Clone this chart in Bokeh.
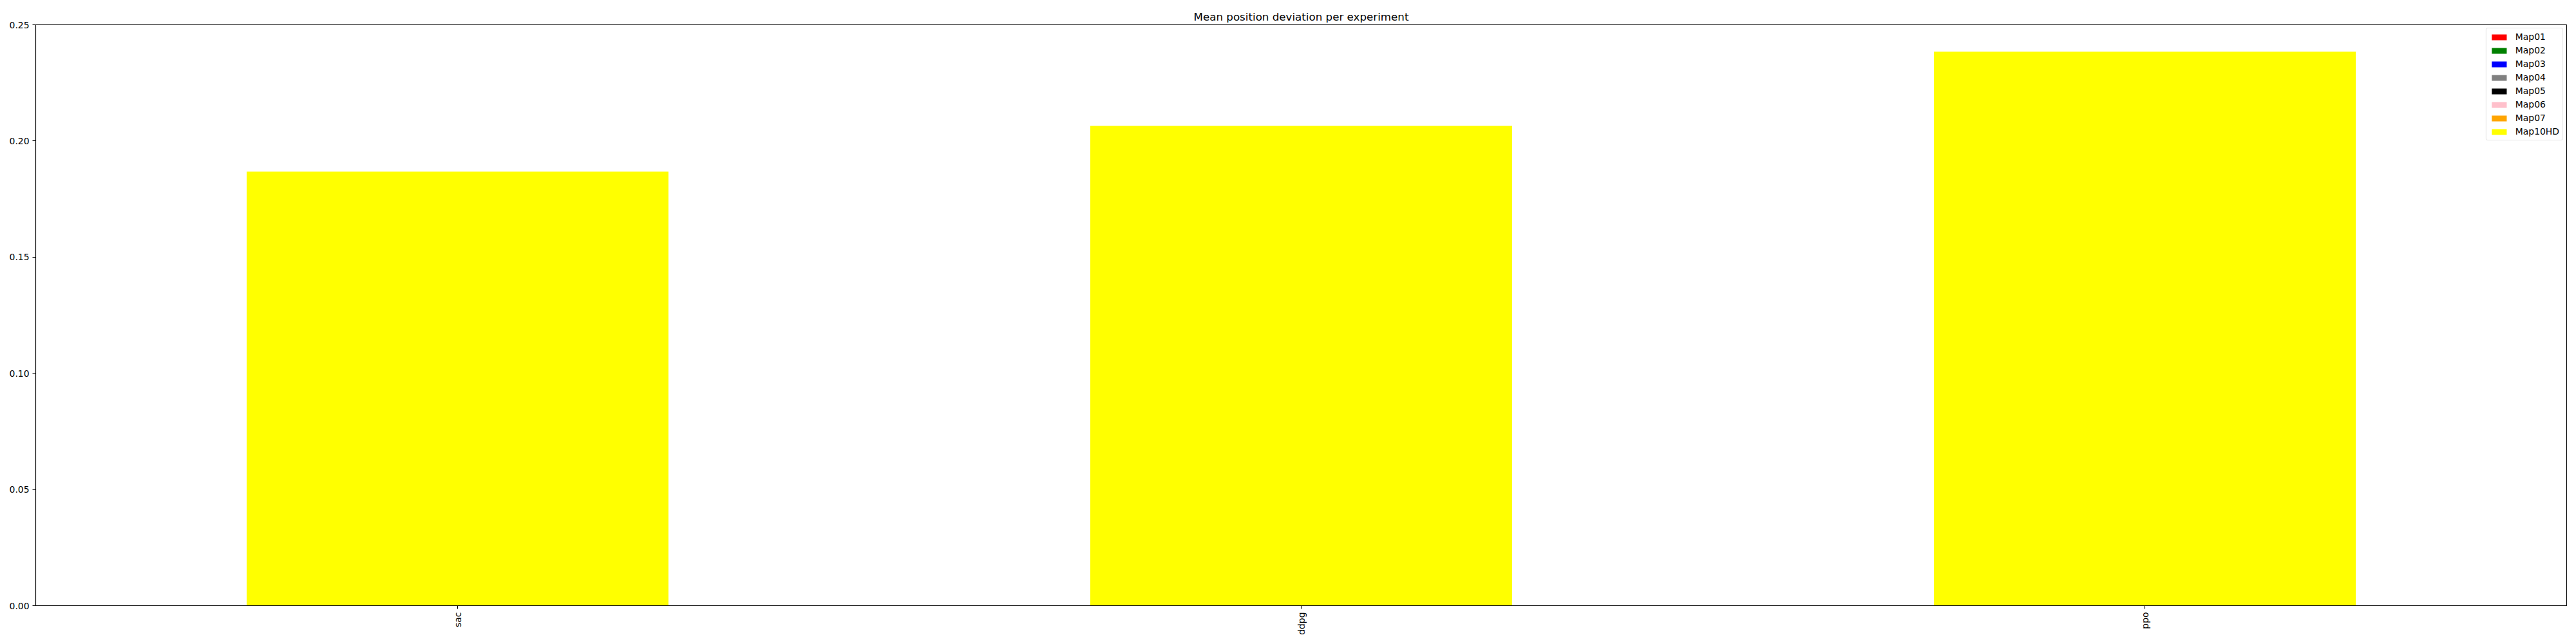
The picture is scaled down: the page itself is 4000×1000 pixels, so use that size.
import math
from bokeh.plotting import figure
from bokeh.models import FactorRange, Range1d, FixedTicker, NumeralTickFormatter, Legend, LegendItem
from bokeh.embed import file_html
from bokeh.resources import INLINE

# ---- data ----
experiments = ["sac", "ddpg", "ppo"]
maps = ["Map01", "Map02", "Map03", "Map04", "Map05", "Map06", "Map07", "Map10HD"]
map01 = [0.0, 0.0, 0.0]
map02 = [0.0, 0.0, 0.0]
map03 = [0.0, 0.0, 0.0]
map04 = [0.0, 0.0, 0.0]
map05 = [0.0, 0.0, 0.0]
map06 = [0.0, 0.0, 0.0]
map07 = [0.0, 0.0, 0.0]
map10hd = [0.1868, 0.2065, 0.2384]
colors = ["red", "green", "blue", "gray", "black", "pink", "orange", "yellow"]
y_ticks = [0.0, 0.05, 0.10, 0.15, 0.20, 0.25]

source = dict(experiment=experiments, Map01=map01, Map02=map02, Map03=map03,
              Map04=map04, Map05=map05, Map06=map06, Map07=map07, Map10HD=map10hd)

FONT = "DejaVu Sans"

p = figure(x_range=FactorRange(*experiments, range_padding=0),
           y_range=Range1d(0, 0.25),
           frame_width=3930, frame_height=902,
           min_border_left=55, min_border_right=5, min_border_top=38, min_border_bottom=50,
           output_backend="svg", toolbar_location=None,
           title="Mean position deviation per experiment")

renderers = p.vbar_stack(maps, x="experiment", width=0.5, source=source,
                         fill_color=colors, line_color=None)

p.title.align = "center"
p.title.text_font = FONT
p.title.text_font_size = "16.7px"
p.title.text_font_style = "normal"
p.title.text_color = "black"
p.title.standoff = 5

p.xgrid.grid_line_color = None
p.ygrid.grid_line_color = None
p.outline_line_color = "black"
p.outline_line_width = 1.1
p.outline_line_alpha = 1.0

for ax in (p.xaxis[0], p.yaxis[0]):
    ax.axis_line_color = "black"
    ax.axis_line_width = 1.1
    ax.major_tick_line_color = "black"
    ax.major_tick_line_width = 1.1
    ax.major_tick_out = 5
    ax.major_tick_in = 0
    ax.minor_tick_line_color = None
    ax.major_label_text_font = FONT
    ax.major_label_text_font_size = "13.9px"
    ax.major_label_text_color = "black"
    ax.major_label_standoff = 5

p.xaxis[0].major_label_orientation = math.pi / 2
p.yaxis[0].ticker = FixedTicker(ticks=y_ticks)
p.yaxis[0].formatter = NumeralTickFormatter(format="0.00")

legend = Legend(items=[LegendItem(label=m, renderers=[r]) for m, r in zip(maps, renderers)],
                location="top_right")
legend.margin = 5
legend.padding = 5
legend.spacing = 5
legend.glyph_width = 29
legend.glyph_height = 11
legend.label_height = 14
legend.label_standoff = 11
legend.label_text_font = FONT
legend.label_text_font_size = "13.9px"
legend.label_text_color = "black"
legend.border_line_color = "#cccccc"
legend.border_line_width = 1
legend.border_radius = 3
legend.background_fill_color = "white"
legend.background_fill_alpha = 0.8
p.add_layout(legend, "center")

open("out.html", "w").write(file_html(p, INLINE))
